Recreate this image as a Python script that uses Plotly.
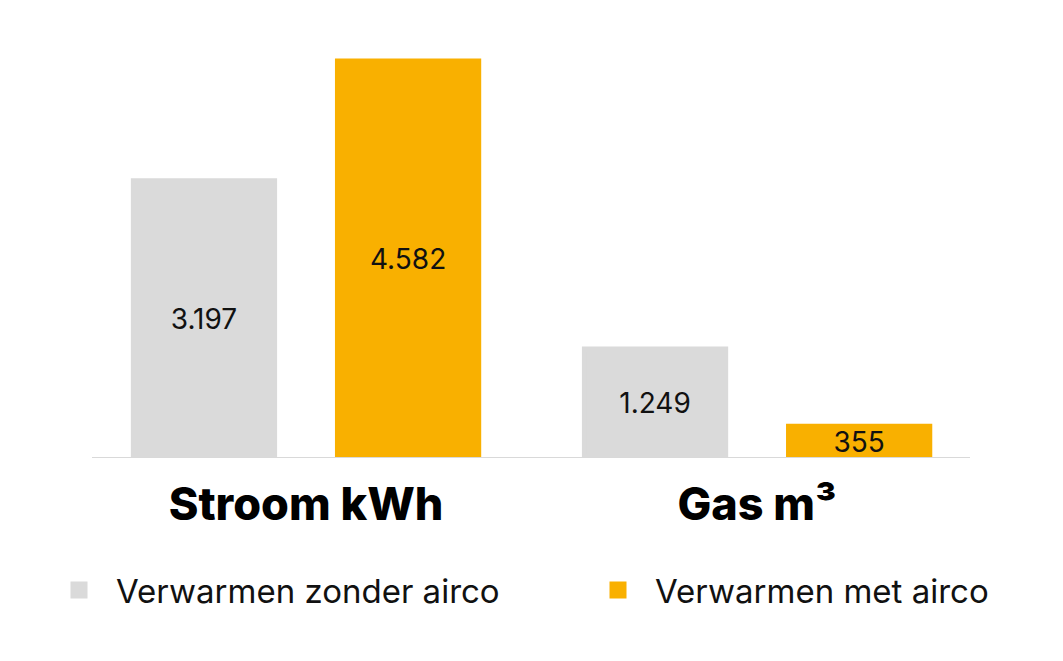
import plotly.graph_objects as go

categories = ["Stroom kWh", "Gas m³"]
zonder_airco = [3197, 1249]
met_airco = [4582, 355]
series_names = ["Verwarmen zonder airco", "Verwarmen met airco"]

W, H = 1063, 661
GRAY = "#DADADA"
ORANGE = "#F9B000"
FONT = "Inter"

fig = go.Figure()
fig.add_trace(go.Bar(
    x=categories, y=zonder_airco, name=series_names[0],
    marker=dict(color=GRAY, line=dict(width=5, color=GRAY)),
    texttemplate="%{y:,}", textposition="inside", insidetextanchor="middle",
    constraintext="none", textangle=0,
    textfont=dict(family=FONT, size=28, color="#111111"),
    legend="legend", showlegend=True, hoverinfo="skip",
))
fig.add_trace(go.Bar(
    x=categories, y=met_airco, name=series_names[1],
    marker=dict(color=ORANGE, line=dict(width=5, color=ORANGE)),
    texttemplate="%{y:,}", textposition="inside", insidetextanchor="middle",
    constraintext="none", textangle=0,
    textfont=dict(family=FONT, size=28, color="#111111"),
    legend="legend2", showlegend=True, hoverinfo="skip",
))

fig.update_layout(
    width=W, height=H,
    margin=dict(l=92, r=93, t=25, b=204),
    paper_bgcolor="white", plot_bgcolor="white",
    separators=",.",
    showlegend=True,
    barmode="group", bargap=0.095, bargroupgap=0.308,
    font=dict(family=FONT, color="#111111"),
    xaxis=dict(
        type="category", range=[-0.4745, 1.472],
        showline=True, linecolor="#D9D9D9", linewidth=1, layer="above traces",
        showgrid=False, ticks="", ticklabelstandoff=8,
        tickfont=dict(family=FONT, size=45, color="#000000", weight=800),
    ),
    yaxis=dict(range=[0, 5000], visible=False, showgrid=False, zeroline=False),
    legend=dict(
        xref="container", yref="container", x=42 / W, y=1 - 590 / H,
        xanchor="left", yanchor="middle", orientation="h", itemwidth=64,
        font=dict(family=FONT, size=33, color="#111111"),
        bgcolor="rgba(0,0,0,0)",
    ),
    legend2=dict(
        xref="container", yref="container", x=581 / W, y=1 - 590 / H,
        xanchor="left", yanchor="middle", orientation="h", itemwidth=64,
        font=dict(family=FONT, size=33, color="#111111"),
        bgcolor="rgba(0,0,0,0)",
    ),
)

fig.write_html("out.html", config={"displayModeBar": False},
               post_script="document.body.style.margin='0';")
